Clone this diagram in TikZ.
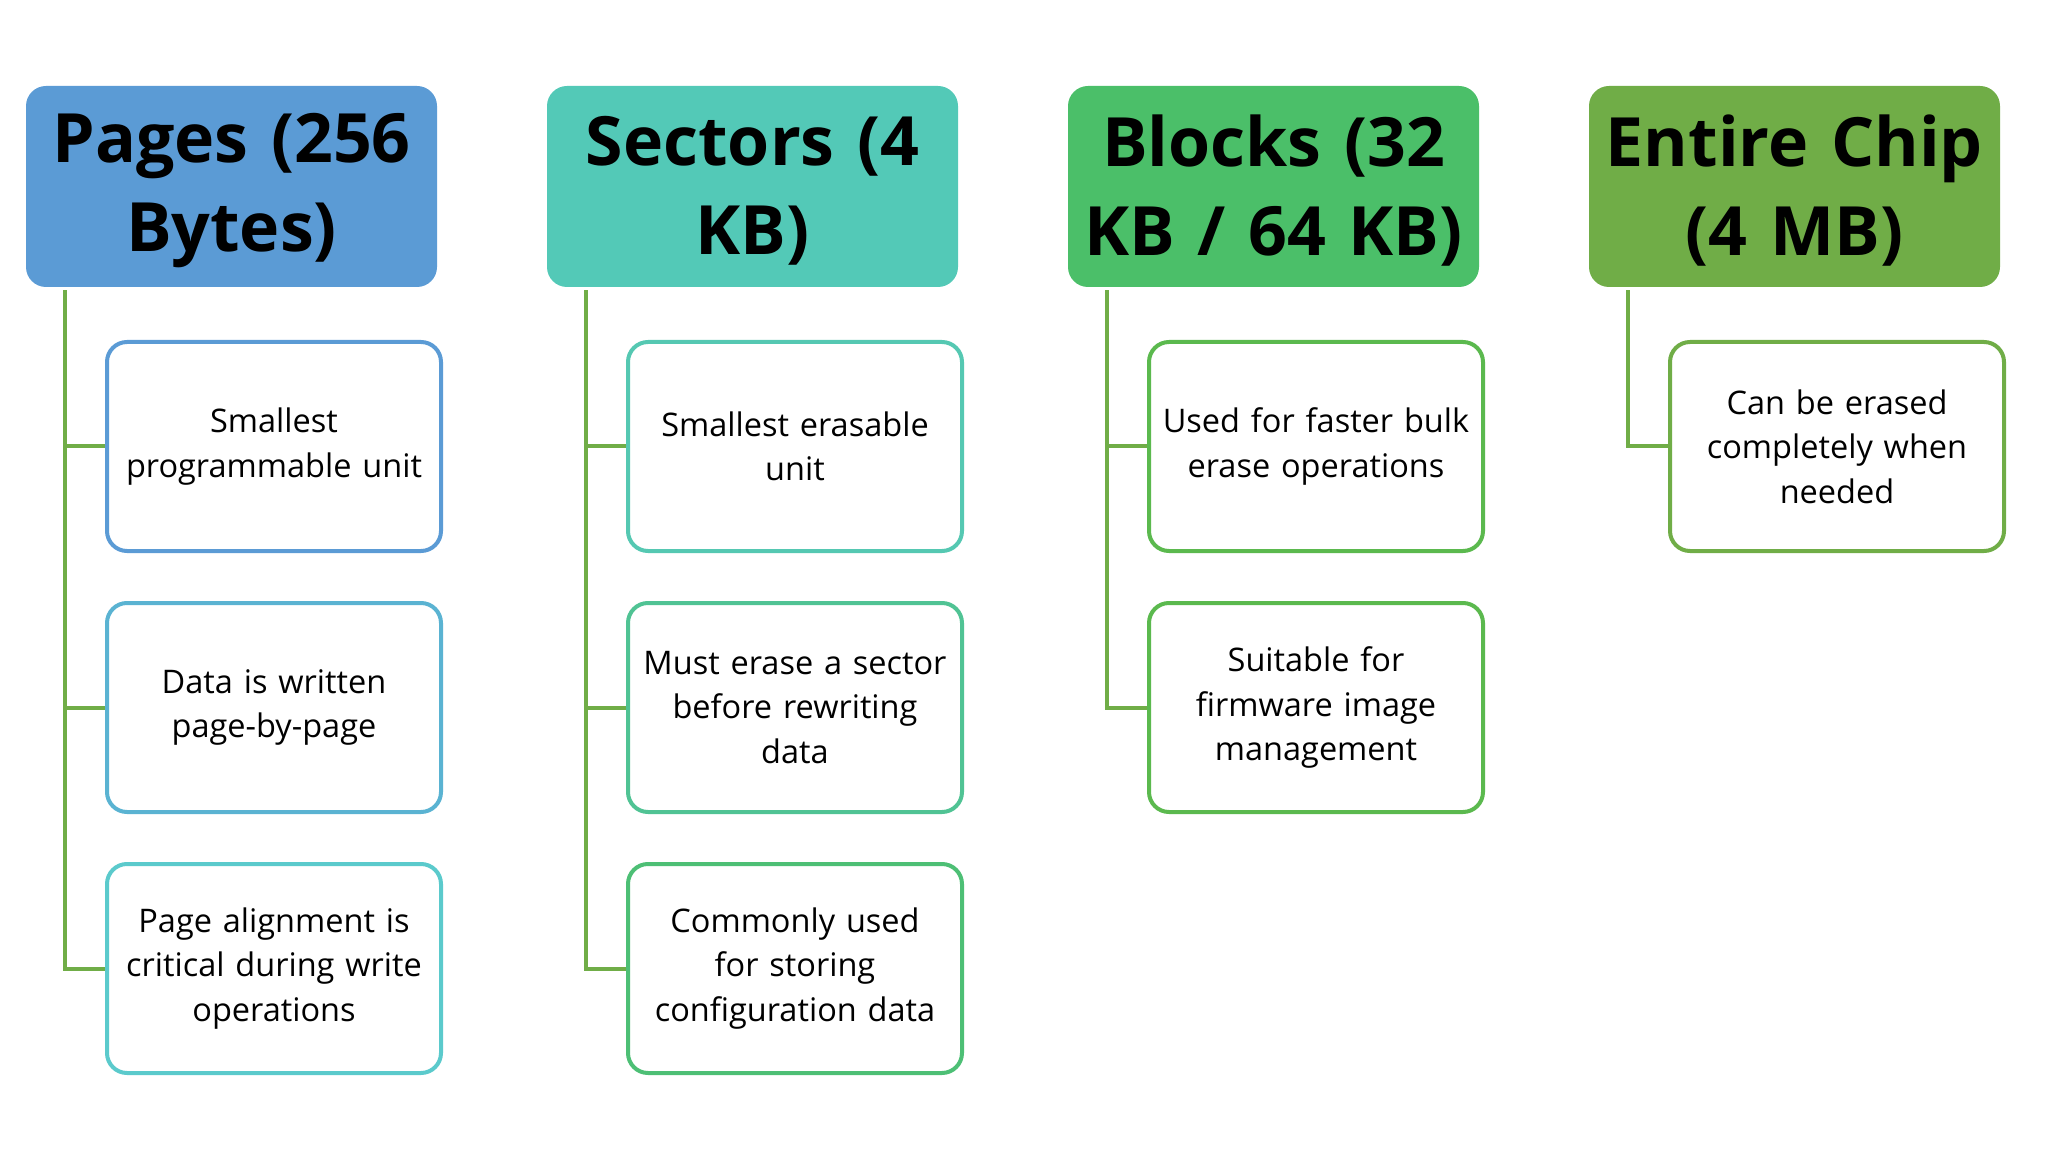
\documentclass[tikz,border=0pt]{standalone}
\usepackage{fontspec}
\setmainfont{Open Sans}
\definecolor{hA}{HTML}{5B9BD5}
\definecolor{hB}{HTML}{53C9B7}
\definecolor{hC}{HTML}{4BBF69}
\definecolor{hD}{HTML}{70AD47}
\definecolor{cA1}{HTML}{5B9BD5}
\definecolor{cA2}{HTML}{5AB3D2}
\definecolor{cA3}{HTML}{5BCACC}
\definecolor{cB1}{HTML}{55C8B2}
\definecolor{cB2}{HTML}{50C394}
\definecolor{cB3}{HTML}{4DBF75}
\definecolor{cC}{HTML}{5BB94E}
\definecolor{cD}{HTML}{70AD47}
\definecolor{conn}{HTML}{70AD47}
\tikzset{
  hdr/.style={fill=#1, draw=none, rounded corners=20pt, minimum width=411pt, minimum height=201pt,
    inner sep=0pt},
  hdrtext/.style={text width=405pt, align=center, inner sep=0pt,
    font=\fontsize{68}{89}\selectfont\bfseries},
  child/.style={draw=#1, line width=4pt, fill=white, rounded corners=20pt, minimum width=334pt,
    minimum height=209pt, text width=326pt, align=center, inner sep=0pt,
    font=\fontsize{32.5}{44.5}\selectfont},
  connline/.style={draw=conn, line width=4pt}
}
\begin{document}
\begin{tikzpicture}[x=1pt,y=-1pt]
\useasboundingbox (0,0) rectangle (2046,1155);
% headers
\node[hdr=hA] (h1) at (231.5,186.5) {};
\node[hdr=hB] (h2) at (752.5,186.5) {};
\node[hdr=hC] (h3) at (1273.5,186.5) {};
\node[hdr=hD] (h4) at (1794.5,186.5) {};
\node[hdrtext] (l1) at ([yshift=-4pt]h1.center) {Pages (256\\Bytes)};
\node[hdrtext] (l2) at ([yshift=-4pt]h2.center) {Sectors (4\\KB)};
\node[hdrtext] (l3) at ([yshift=-4pt]h3.center) {Blocks (32\\KB / 64 KB)};
\node[hdrtext] (l4) at ([yshift=-4pt]h4.center) {Entire Chip\\(4 MB)};
% children col 1
\node[child=cA1] (c11) at (274,446.5) {Smallest\\programmable unit};
\node[child=cA2] (c12) at (274,707.5) {Data is written\\page-by-page};
\node[child=cA3] (c13) at (274,968.5) {Page alignment is\\critical during write\\operations};
% col 2
\node[child=cB1] (c21) at (795,446.5) {Smallest erasable\\unit};
\node[child=cB2] (c22) at (795,707.5) {Must erase a sector\\before rewriting\\data};
\node[child=cB3] (c23) at (795,968.5) {Commonly used\\for storing\\configuration data};
% col 3
\node[child=cC] (c31) at (1316,446.5) {Used for faster bulk\\erase operations};
\node[child=cC] (c32) at (1316,707.5) {Suitable for\\firmware image\\management};
% col 4
\node[child=cD] (c41) at (1837,446.5) {Can be erased\\completely when\\needed};
% trunk coordinates
\coordinate (t1) at ([xshift=39pt,yshift=-3pt]h1.south west);
\coordinate (t2) at ([xshift=39pt,yshift=-3pt]h2.south west);
\coordinate (t3) at ([xshift=39pt,yshift=-3pt]h3.south west);
\coordinate (t4) at ([xshift=39pt,yshift=-3pt]h4.south west);
% connectors
\draw[connline] (t1) |- (c13.west);
\draw[connline] (c11.west -| t1) -- (c11.west);
\draw[connline] (c12.west -| t1) -- (c12.west);
\draw[connline] (t2) |- (c23.west);
\draw[connline] (c21.west -| t2) -- (c21.west);
\draw[connline] (c22.west -| t2) -- (c22.west);
\draw[connline] (t3) |- (c32.west);
\draw[connline] (c31.west -| t3) -- (c31.west);
\draw[connline] (t4) |- (c41.west);
\end{tikzpicture}
\end{document}
